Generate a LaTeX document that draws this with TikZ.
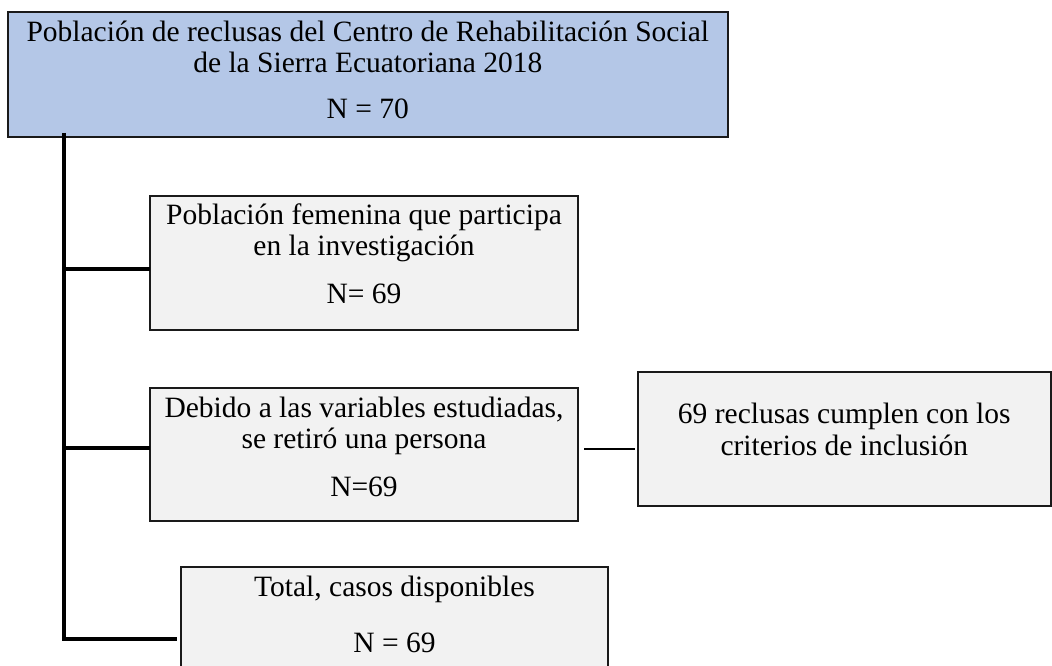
\documentclass[tikz,border=0pt]{standalone}
\usepackage{fontspec}
\setmainfont{Liberation Serif}
\definecolor{topblue}{HTML}{B4C7E7}
\definecolor{boxgray}{HTML}{F2F2F2}
\definecolor{edge}{HTML}{1A1A1A}
\begin{document}
\begin{tikzpicture}[x=1pt,y=-1pt,
  box/.style={draw=edge,line width=2pt,inner sep=0pt,outer sep=0pt,fill=boxgray},
  txt/.style={anchor=base,inner sep=0pt,font=\fontsize{29.5}{31}\selectfont},
  trunk/.style={line width=3.2pt,black},
  thinlink/.style={line width=1.4pt,black}]
\useasboundingbox (0,0) rectangle (1052,666);
\clip (0,0) rectangle (1052,666);
% boxes
\node[box,fill=topblue,minimum width=720.5pt,minimum height=125pt] (top) at (367.75,74.5) {};
\node[box,minimum width=428pt,minimum height=134pt] (b2) at (364,263) {};
\node[box,minimum width=428pt,minimum height=133pt] (b3) at (364,454.5) {};
\node[box,minimum width=412.5pt,minimum height=134pt] (b5) at (844.25,439) {};
\node[box,minimum width=427pt,minimum height=140pt] (b4) at (394.5,637) {};
% texts
\node[txt] (t1a) at (367.75,41.5) {Población de reclusas del Centro de Rehabilitación Social};
\node[txt] (t1b) at (367.75,72.2) {de la Sierra Ecuatoriana 2018};
\node[txt] (t1c) at (367.75,119) {N = 70};
\node[txt] (t2a) at (364,224.8) {Población femenina que participa};
\node[txt] (t2b) at (364,255.5) {en la investigación};
\node[txt] (t2c) at (364,303.5) {N= 69};
\node[txt] (t3a) at (364,417) {Debido a las variables estudiadas,};
\node[txt] (t3b) at (364,448) {se retiró una persona};
\node[txt] (t3c) at (364,496.5) {N=69};
\node[txt] (t5a) at (844.25,423.8) {69 reclusas cumplen con los};
\node[txt] (t5b) at (844.25,455) {criterios de inclusión};
\node[txt] (t4a) at (394.5,596.5) {Total, casos disponibles};
\node[txt] (t4b) at (394.5,652.5) {N = 69};
% connectors
\coordinate (tr) at (64,639);
\draw[trunk] ([yshift=4pt]top.south -| tr) -- (tr) -- ([xshift=-4pt]b4.west |- tr);
\draw[trunk] ([yshift=-6pt]b2.west) -- ([yshift=-6pt]b2.west -| tr);
\draw[trunk] ([yshift=6.5pt]b3.west) -- ([yshift=6.5pt]b3.west -| tr);
\draw[thinlink] ([xshift=6pt,yshift=5.5pt]b3.east) -- ([xshift=-3pt,yshift=-10pt]b5.west);
\end{tikzpicture}
\end{document}
